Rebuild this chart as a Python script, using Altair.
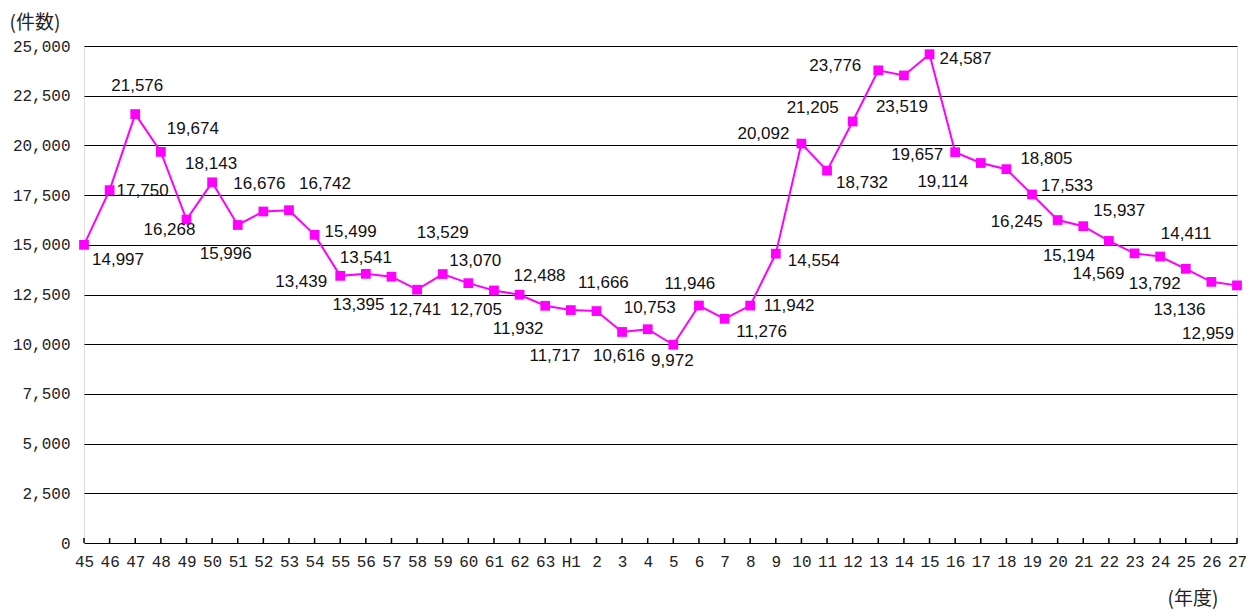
import altair as alt
import pandas as pd

# Fiscal years (Showa 45-63, Heisei 1-27)
years = ["45", "46", "47", "48", "49", "50", "51", "52", "53", "54", "55", "56", "57",
         "58", "59", "60", "61", "62", "63", "H1", "2", "3", "4", "5", "6", "7", "8",
         "9", "10", "11", "12", "13", "14", "15", "16", "17", "18", "19", "20", "21",
         "22", "23", "24", "25", "26", "27"]

counts = [14997, 17750, 21576, 19674, 16268, 18143, 15996, 16676, 16742, 15499,
          13439, 13541, 13395, 12741, 13529, 13070, 12705, 12488, 11932, 11717,
          11666, 10616, 10753, 9972, 11946, 11276, 11942, 14554, 20092, 18732,
          21205, 23776, 23519, 24587, 19657, 19114, 18805, 17533, 16245, 15937,
          15194, 14569, 14411, 13792, 13136, 12959]

# label placement relative to each marker (pixels; +dy = downward)
label_dx = [34, 33, 2, 32, -17, -1, -12, -4, 36, 36,
            -39, 0, -33, -2, 0, 7, -18, 20, -27, -16,
            7, -3, 2, -1, -9, 37, 39, 38, -38, 35,
            -40, -43, -2, 36, -38, -38, 40, 35, -41, 36,
            -40, -36, 26, -31, -32, -29]
label_dy = [15, 1, -28, -23, 10, -18, 29, -27, -26, -3,
            6, -16, 28, 20, -41, -22, 20, -19, 23, 46,
            -28, 24, -21, 16, -22, 13, 0, 7, -10, 12,
            -13, -4, 32, 5, 3, 19, -10, -8, 2, -15,
            15, 21, -23, 15, 28, 49]

df = pd.DataFrame({
    "year": years,
    "count": counts,
    "label": [f"{v:,}" for v in counts],
    "ldx": label_dx,
    "ldy": label_dy,
})

W, H = 1153, 497
YMAX = 25000
MAG = "#FF00FF"
TICK_FONT = "Liberation Mono"

x_enc = alt.X("year:N", sort=years,
              scale=alt.Scale(type="point", padding=0),
              axis=alt.Axis(title="(年度)", labelAngle=0, ticks=False, domain=False,
                            labelFont=TICK_FONT, labelFontSize=16, labelColor="#222",
                            labelPadding=10,
                            titleFont="Noto Sans CJK JP", titleFontSize=19, titleFontWeight="normal",
                            titleColor="#222", titleAngle=0, titleAlign="left",
                            titleBaseline="middle", titleX=1083, titleY=55))
y_scale = alt.Scale(domain=[0, YMAX], nice=False)
y_enc = alt.Y("count:Q", scale=y_scale,
              axis=alt.Axis(title="(件数)", values=list(range(0, YMAX + 1, 2500)),
                            labelExpr="format(datum.value, ',')",
                            grid=True, gridColor="#000", gridWidth=1, ticks=False, domain=False,
                            labelFont=TICK_FONT, labelFontSize=16, labelColor="#222",
                            labelPadding=14,
                            titleFont="Noto Sans CJK JP", titleFontSize=19, titleFontWeight="normal",
                            titleColor="#222", titleAngle=0, titleAlign="left",
                            titleBaseline="middle", titleX=-75, titleY=-24))

base = alt.Chart(df)

line = base.mark_line(color=MAG, strokeWidth=2).encode(x=x_enc, y=y_enc)
pts = base.mark_point(shape="square", filled=True, opacity=1, color=MAG, size=95).encode(
    x=alt.X("year:N", sort=years), y=alt.Y("count:Q", scale=y_scale))
ident = alt.Scale(domain=[-100, 100], range=[-100, 100])
labels = base.transform_calculate(
    ly=f"datum.count - datum.ldy * {YMAX} / {H}"
).mark_text(font="Liberation Sans", fontSize=17, color="#111",
            align="center", baseline="middle").encode(
    x=alt.X("year:N", sort=years),
    y=alt.Y("ly:Q", scale=y_scale),
    xOffset=alt.XOffset("ldx:Q", scale=ident),
    text="label:N")
ticks = base.mark_rule(color="#000", strokeWidth=1.5).encode(
    x=alt.X("year:N", sort=years), y=alt.value(H), y2=alt.value(H - 5))

chart = alt.layer(line, ticks, pts, labels).properties(
    width=W, height=H,
    padding={"left": 76, "top": 38, "right": 9, "bottom": 66},
    autosize=alt.AutoSizeParams(type="none"),
).configure_view(stroke="#000", strokeWidth=2).configure(background="white")

chart.save("out.html", embed_options={"renderer": "svg", "actions": False})
